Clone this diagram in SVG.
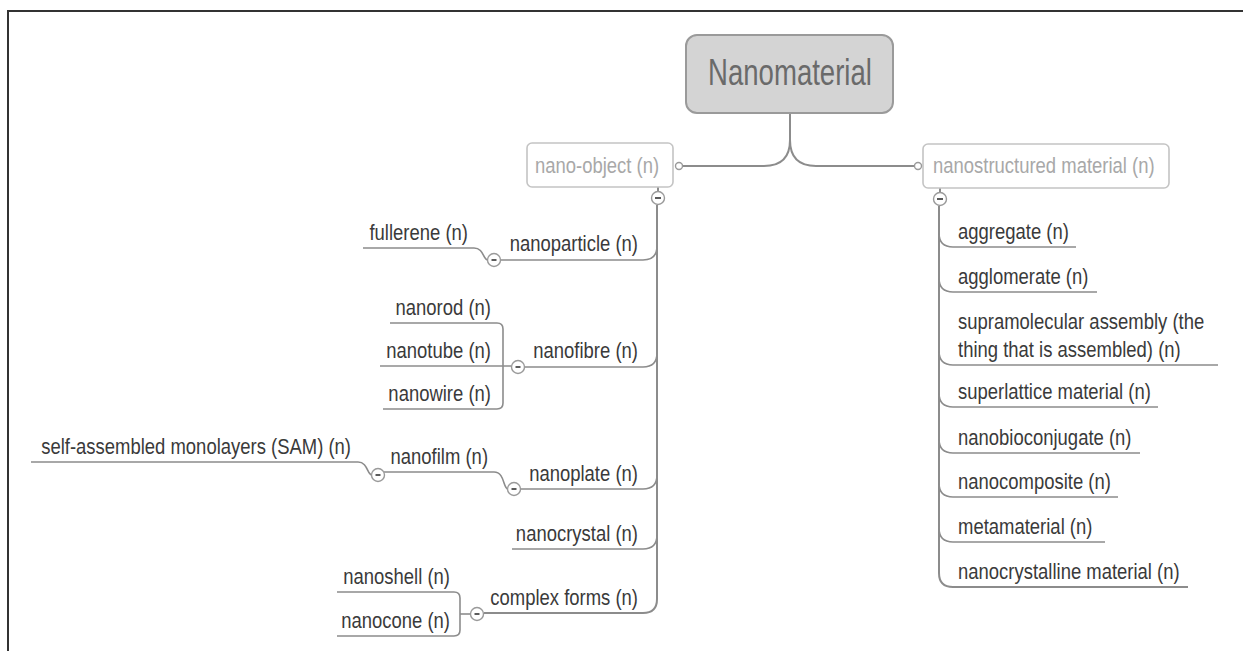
<svg xmlns="http://www.w3.org/2000/svg" width="1243" height="651" viewBox="0 0 1243 651">
<style>
.t{font-family:"Liberation Sans",Arial,sans-serif;font-size:22px;fill:#3a3a3a}
.te{font-family:"Liberation Sans",Arial,sans-serif;font-size:22px;fill:#3a3a3a;text-anchor:end}
.tl{font-family:"Liberation Sans",Arial,sans-serif;font-size:22px;fill:#a8a8a8}
.ln{fill:none;stroke:#8c8c8c;stroke-width:1.6}
.tr{fill:none;stroke:#8c8c8c;stroke-width:2}
.cc{fill:#fff;stroke:#9a9a9a;stroke-width:1.4}
.mn{stroke:#333;stroke-width:1.6}
.box{fill:#fff;stroke:#c4c4c4;stroke-width:1.6}
</style>
<rect width="1243" height="651" fill="#fff"/>
<g id="frame">
<line x1="7" y1="11" x2="1243" y2="11" stroke="#333" stroke-width="2"/>
<line x1="8" y1="11" x2="8" y2="651" stroke="#333" stroke-width="2"/>
</g>
<g id="connectors">
<path class="tr" d="M790,113 L790,140 Q790,166 764,166 L683,166"/>
<path class="tr" d="M790,140 Q790,166 816,166 L914,166"/>
<line class="tr" x1="658" y1="187" x2="658" y2="192"/>
<line class="tr" x1="940" y1="188" x2="940" y2="193"/>
<path class="tr" d="M657,205 L657,599 Q657,613 643,613 L484,613"/>
<path class="ln" d="M657,246 Q657,260 643,260 L500,260"/>
<path class="ln" d="M657,353 Q657,367 643,367 L524,367"/>
<path class="ln" d="M657,475 Q657,489 643,489 L520,489"/>
<path class="ln" d="M657,535 Q657,549 643,549 L512,549"/>
<path class="ln" d="M363,248 L474,248 C484,248 483,260 488,260"/>
<path class="ln" d="M390,323 L497,323 Q503,323 503,329 L503,403 Q503,409 497,409 L383,409"/>
<path class="ln" d="M380,366 L512,366"/>
<path class="ln" d="M31,462 L358,462 C368,462 367,475 372,475"/>
<path class="ln" d="M384,472 L494,472 C505,472 503,489 508,489"/>
<path class="ln" d="M337,592 L454,592 Q460,592 460,598 L460,630 Q460,636 454,636 L337,636"/>
<path class="ln" d="M460,614 L470,614"/>
<path class="tr" d="M939,206 L939,573 Q939,587 953,587 L1188,587"/>
<path class="ln" d="M939,233 Q939,247 953,247 L1076,247"/>
<path class="ln" d="M939,278 Q939,292 953,292 L1097,292"/>
<path class="ln" d="M939,351 Q939,365 953,365 L1218,365"/>
<path class="ln" d="M939,393 Q939,407 953,407 L1158,407"/>
<path class="ln" d="M939,439 Q939,453 953,453 L1140,453"/>
<path class="ln" d="M939,483 Q939,497 953,497 L1118,497"/>
<path class="ln" d="M939,528 Q939,542 953,542 L1105,542"/>
</g>
<g id="nanomaterial">
<rect x="686" y="35" width="207" height="78" rx="11" fill="#d4d4d4" stroke="#9a9a9a" stroke-width="2"/>
<text transform="scale(0.745 1)" x="1060.4" y="85" text-anchor="middle" font-family="Liberation Sans, Arial, sans-serif" font-size="37" fill="#6a6a6a">Nanomaterial</text>
</g>
<g id="nano-object">
<rect class="box" x="527" y="143" width="146" height="44" rx="5"/>
<text class="tl" transform="scale(0.84 1)" x="636.9" y="173">nano-object (n)</text>
<circle class="cc" cx="679" cy="166" r="3.5"/>
<circle class="cc" cx="658" cy="198" r="6.5"/>
<line class="mn" x1="655" y1="198" x2="661" y2="198"/>
</g>
<g id="nanostructured-material">
<rect class="box" x="923" y="144" width="246" height="44" rx="5"/>
<text class="tl" transform="scale(0.84 1)" x="1110.7" y="173">nanostructured material (n)</text>
<circle class="cc" cx="918" cy="166" r="3.5"/>
<circle class="cc" cx="940" cy="199" r="6.5"/>
<line class="mn" x1="937" y1="199" x2="943" y2="199"/>
</g>
<g id="nanoparticle">
<text class="te" transform="scale(0.84 1)" x="759.5" y="251">nanoparticle (n)</text>
<circle class="cc" cx="494" cy="260" r="6.5"/>
<line class="mn" x1="491.5" y1="260" x2="496.5" y2="260"/>
</g>
<g id="fullerene"><text class="te" transform="scale(0.84 1)" x="557.1" y="240">fullerene (n)</text></g>
<g id="nanofibre">
<text class="te" transform="scale(0.84 1)" x="759.5" y="358">nanofibre (n)</text>
<circle class="cc" cx="518" cy="367" r="6.5"/>
<line class="mn" x1="515.5" y1="367" x2="520.5" y2="367"/>
</g>
<g id="nanorod"><text class="te" transform="scale(0.84 1)" x="584.5" y="315">nanorod (n)</text></g>
<g id="nanotube"><text class="te" transform="scale(0.84 1)" x="584.5" y="358">nanotube (n)</text></g>
<g id="nanowire"><text class="te" transform="scale(0.84 1)" x="584.5" y="401">nanowire (n)</text></g>
<g id="nanoplate">
<text class="te" transform="scale(0.84 1)" x="759.5" y="481">nanoplate (n)</text>
<circle class="cc" cx="514" cy="489" r="6.5"/>
<line class="mn" x1="511.5" y1="489" x2="516.5" y2="489"/>
</g>
<g id="nanofilm">
<text class="te" transform="scale(0.84 1)" x="581" y="464">nanofilm (n)</text>
<circle class="cc" cx="378" cy="475" r="6.5"/>
<line class="mn" x1="375.5" y1="475" x2="380.5" y2="475"/>
</g>
<g id="sam"><text class="te" transform="scale(0.84 1)" x="417.9" y="454">self-assembled monolayers (SAM) (n)</text></g>
<g id="nanocrystal"><text class="te" transform="scale(0.84 1)" x="759.5" y="541">nanocrystal (n)</text></g>
<g id="complex-forms">
<text class="te" transform="scale(0.84 1)" x="759.5" y="605">complex forms (n)</text>
<circle class="cc" cx="477" cy="614" r="6.5"/>
<line class="mn" x1="474.5" y1="614" x2="479.5" y2="614"/>
</g>
<g id="nanoshell"><text class="te" transform="scale(0.84 1)" x="535.7" y="584">nanoshell (n)</text></g>
<g id="nanocone"><text class="te" transform="scale(0.84 1)" x="535.7" y="628">nanocone (n)</text></g>
<g id="aggregate"><text class="t" transform="scale(0.84 1)" x="1140.5" y="239">aggregate (n)</text></g>
<g id="agglomerate"><text class="t" transform="scale(0.84 1)" x="1140.5" y="284">agglomerate (n)</text></g>
<g id="supramolecular-assembly"><text class="t" transform="scale(0.84 1)" x="1140.5" y="329">supramolecular assembly (the</text><text class="t" transform="scale(0.84 1)" x="1140.5" y="357">thing that is assembled) (n)</text></g>
<g id="superlattice-material"><text class="t" transform="scale(0.84 1)" x="1140.5" y="399">superlattice material (n)</text></g>
<g id="nanobioconjugate"><text class="t" transform="scale(0.84 1)" x="1140.5" y="445">nanobioconjugate (n)</text></g>
<g id="nanocomposite"><text class="t" transform="scale(0.84 1)" x="1140.5" y="489">nanocomposite (n)</text></g>
<g id="metamaterial"><text class="t" transform="scale(0.84 1)" x="1140.5" y="534">metamaterial (n)</text></g>
<g id="nanocrystalline-material"><text class="t" transform="scale(0.84 1)" x="1140.5" y="579">nanocrystalline material (n)</text></g>
</svg>
